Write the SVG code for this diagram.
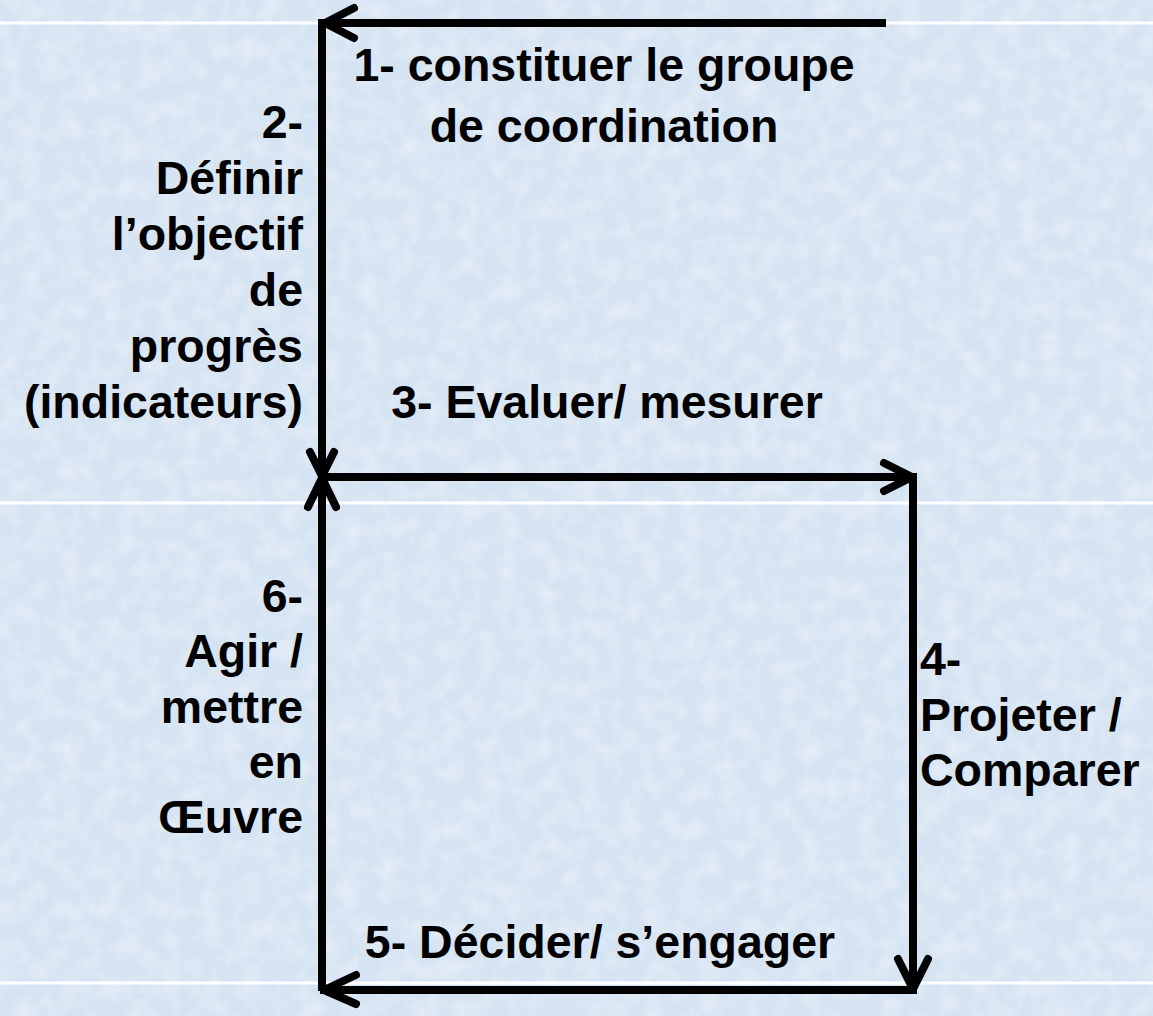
<svg xmlns="http://www.w3.org/2000/svg" width="1153" height="1016" viewBox="0 0 1153 1016">
<defs>
<filter id="tex" x="0" y="0" width="100%" height="100%">
<feTurbulence type="fractalNoise" baseFrequency="0.05" numOctaves="3" seed="7" result="n"/>
<feColorMatrix in="n" type="matrix" values="0 0 0 0 1  0 0 0 0 1  0 0 0 0 1  0 0 0 1.2 -0.45"/>
</filter>
<style>
.lbl{font-family:"Liberation Sans",Arial,sans-serif;font-weight:bold;font-size:46.5px;fill:#000}
.ln{stroke:#000;stroke-width:8;fill:none;stroke-linecap:square}
.ah{stroke:#000;stroke-width:8;fill:none;stroke-linecap:round;stroke-linejoin:round}
.sep{stroke:#ffffff;stroke-width:3}
</style>
</defs>
<g id="background">
<rect width="1153" height="1016" fill="#d5e3f2"/>
<rect width="1153" height="1016" fill="#ffffff" filter="url(#tex)" opacity="0.6"/>
<line class="sep" x1="0" y1="23" x2="1153" y2="23"/>
<line class="sep" x1="0" y1="503" x2="1153" y2="503"/>
<line class="sep" x1="0" y1="983" x2="1153" y2="983"/>
</g>
<g id="connectors">
<line class="ln" x1="882" y1="23" x2="324" y2="23"/>
<polyline class="ah" points="354,8 325,23 354,38"/>
<line class="ln" x1="322" y1="23" x2="322" y2="474"/>
<polyline class="ah" points="310,452 322,476 334,452"/>
<line class="ln" x1="322" y1="987" x2="322" y2="480"/>
<polyline class="ah" points="308,507 322,478 336,507"/>
<line class="ln" x1="324" y1="477" x2="910" y2="477"/>
<polyline class="ah" points="884,463 912,477 884,491"/>
<line class="ln" x1="913" y1="477" x2="913" y2="987"/>
<polyline class="ah" points="898,959 913,989 928,959"/>
<line class="ln" x1="913" y1="990" x2="324" y2="990"/>
<polyline class="ah" points="356,975 324,990 356,1004"/>
</g>
<g id="node-1">
<text class="lbl" x="604" y="81" text-anchor="middle">1- constituer le groupe</text>
<text class="lbl" x="604" y="142" text-anchor="middle">de coordination</text>
</g>
<g id="node-2">
<text class="lbl" x="303" y="138" text-anchor="end">2-</text>
<text class="lbl" x="303" y="194" text-anchor="end">Définir</text>
<text class="lbl" x="303" y="250" text-anchor="end">l’objectif</text>
<text class="lbl" x="303" y="306" text-anchor="end">de</text>
<text class="lbl" x="303" y="362" text-anchor="end">progrès</text>
<text class="lbl" x="303" y="418" text-anchor="end">(indicateurs)</text>
</g>
<g id="node-3">
<text class="lbl" x="607" y="418" text-anchor="middle">3- Evaluer/ mesurer</text>
</g>
<g id="node-4">
<text class="lbl" x="920" y="675">4-</text>
<text class="lbl" x="920" y="731">Projeter /</text>
<text class="lbl" x="920" y="786">Comparer</text>
</g>
<g id="node-5">
<text class="lbl" x="600" y="958" text-anchor="middle">5- Décider/ s’engager</text>
</g>
<g id="node-6">
<text class="lbl" x="303" y="612" text-anchor="end">6-</text>
<text class="lbl" x="303" y="667" text-anchor="end">Agir /</text>
<text class="lbl" x="303" y="723" text-anchor="end">mettre</text>
<text class="lbl" x="303" y="778" text-anchor="end">en</text>
<text class="lbl" x="303" y="833" text-anchor="end">Œuvre</text>
</g>
</svg>
